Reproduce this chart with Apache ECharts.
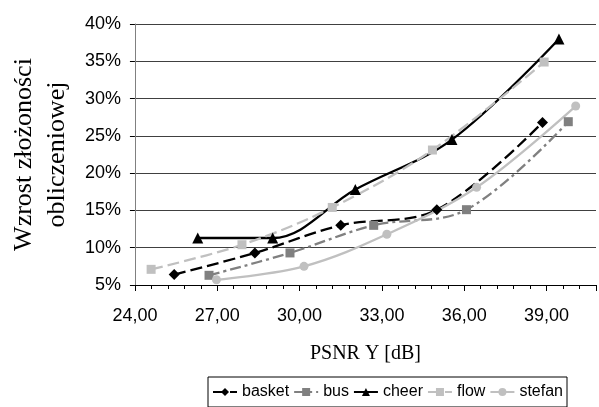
<!DOCTYPE html>
<html>
<head>
<meta charset="utf-8">
<script src="https://cdn.jsdelivr.net/npm/echarts@6/dist/echarts.min.js"></script>
<style>html,body{margin:0;padding:0;background:#fff}#c{width:599px;height:407px}</style>
</head>
<body>
<div id="c"></div>
<script>
var seriesNames = ['basket', 'bus', 'cheer', 'flow', 'stefan'];
var basketX = [25.43, 28.37, 31.50, 35.00, 38.85];
var basketY = [6.4, 9.3, 13.0, 15.1, 26.8];
var busX = [26.70, 29.65, 32.70, 36.08, 39.79];
var busY = [6.3, 9.3, 13.0, 15.1, 26.9];
var cheerX = [26.29, 29.02, 32.03, 35.55, 39.45];
var cheerY = [11.3, 11.3, 17.8, 24.5, 38.0];
var flowX = [24.59, 27.90, 31.19, 34.84, 38.91];
var flowY = [7.1, 10.4, 15.4, 23.1, 34.9];
var stefanX = [26.97, 30.16, 33.18, 36.45, 40.06];
var stefanY = [5.7, 7.5, 11.8, 18.1, 29.0];
var yTicks = [5, 10, 15, 20, 25, 30, 35, 40];

function pairs(xs, ys) { return xs.map(function (x, i) { return [x, ys[i]]; }); }

var styles = {
  basket: {color: '#000000', type: [12, 5], symbol: 'diamond', size: 11},
  bus: {color: '#808080', type: [11, 4, 3, 4], symbol: 'rect', size: 9},
  cheer: {color: '#000000', type: 'solid', symbol: 'triangle', size: 11},
  flow: {color: '#c0c0c0', type: [12, 5], symbol: 'rect', size: 9},
  stefan: {color: '#c0c0c0', type: 'solid', symbol: 'circle', size: 9}
};
var dataMap = {
  basket: pairs(basketX, basketY),
  bus: pairs(busX, busY),
  cheer: pairs(cheerX, cheerY),
  flow: pairs(flowX, flowY),
  stefan: pairs(stefanX, stefanY)
};

var chart = echarts.init(document.getElementById('c'));
chart.setOption({
  animation: false,
  backgroundColor: '#ffffff',
  grid: {left: 125, top: 24, width: 477.6, height: 261},
  legend: {
    data: seriesNames,
    left: 208, top: 377,
    padding: [7, 4, 7, 4],
    itemWidth: 24, itemHeight: 10, itemGap: 4,
    borderColor: '#000', borderWidth: 1,
    textStyle: {fontFamily: 'Liberation Sans, Arial', fontSize: 16, color: '#000'}
  },
  xAxis: [{
    type: 'value', min: 24, max: 40.8, interval: 0.6,
    name: 'PSNR Y [dB]', nameLocation: 'middle', nameGap: 59,
    nameTextStyle: {fontFamily: 'Liberation Serif, Times New Roman', fontSize: 20, color: '#000'},
    axisLine: {show: true, lineStyle: {color: '#000', width: 1}},
    axisTick: {show: true, length: 4, lineStyle: {color: '#000'}},
    splitLine: {show: false},
    axisLabel: {
      interval: 0, margin: 22, color: '#000',
      fontFamily: 'Liberation Sans, Arial', fontSize: 18,
      formatter: function (v) {
        var k = (v - 24) / 3;
        if (Math.abs(k - Math.round(k)) < 1e-6 && v < 40) return v.toFixed(2).replace('.', ',');
        return '';
      }
    }
  }, {
    type: 'value', min: 24, max: 40.8, interval: 3, position: 'bottom', offset: 0,
    axisLine: {show: false},
    axisTick: {show: true, length: 6, lineStyle: {color: '#000'}},
    axisLabel: {show: false},
    splitLine: {show: false}
  }],
  yAxis: {
    type: 'value', min: 5, max: 40, interval: 5,
    name: 'Wzrost złożoności\nobliczeniowej', nameLocation: 'middle', nameRotate: 90, nameGap: 55,
    nameTextStyle: {fontFamily: 'Liberation Serif, Times New Roman', fontSize: 26, lineHeight: 33, color: '#000', align: 'center'},
    axisLine: {show: true, lineStyle: {color: '#808080', width: 1}},
    axisTick: {show: true, length: 5, lineStyle: {color: '#000'}},
    splitLine: {show: true, lineStyle: {color: '#404040', width: 1}},
    axisLabel: {
      margin: 14, color: '#000', fontFamily: 'Liberation Sans, Arial', fontSize: 18,
      formatter: function (v) { return yTicks.indexOf(v) >= 0 ? v + '%' : ''; }
    }
  },
  series: seriesNames.map(function (n) {
    var s = styles[n];
    return {
      name: n, type: 'line', data: dataMap[n], smooth: 0.35,
      symbol: s.symbol, symbolSize: s.size, showSymbol: true,
      itemStyle: {color: s.color},
      lineStyle: {color: s.color, width: 2.3, type: s.type}
    };
  })
});
</script>
</body>
</html>
